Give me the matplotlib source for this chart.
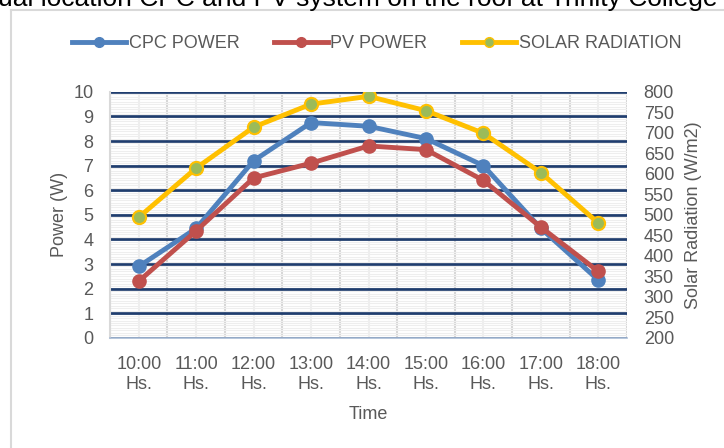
import matplotlib.pyplot as plt
import numpy as np
from matplotlib.ticker import MultipleLocator, FixedLocator
from matplotlib.lines import Line2D

plt.rcParams['font.family'] = ['Liberation Sans', 'DejaVu Sans']

# data
times = ['10:00\nHs.', '11:00\nHs.', '12:00\nHs.', '13:00\nHs.', '14:00\nHs.',
         '15:00\nHs.', '16:00\nHs.', '17:00\nHs.', '18:00\nHs.']
cpcPower = [2.9, 4.45, 7.2, 8.75, 8.6, 8.1, 7.0, 4.45, 2.35]
pvPower = [2.3, 4.35, 6.5, 7.1, 7.8, 7.65, 6.4, 4.5, 2.7]
solarRad = [494, 614, 714, 770, 789, 754, 699, 603, 480]

txtColor = '#595959'
fs = 13

fig = plt.figure(figsize=(7.24, 4.48), dpi=100)
ax = fig.add_axes([0.152, 0.246, 0.714, 0.549])

x = np.arange(len(times))
ax.plot(x, cpcPower, color='#4f81bd', lw=3.5, marker='o', ms=9.5, zorder=3)
ax.plot(x, pvPower, color='#c0504d', lw=3.5, marker='o', ms=9.5, zorder=3)

ax.set_xlim(-0.5, len(times) - 0.5)
ax.set_ylim(0, 10)
ax.set_xticks(x)
ax.set_xticklabels(times, color=txtColor, fontsize=fs, linespacing=1.25)
ax.xaxis.set_minor_locator(FixedLocator(np.arange(-0.5, len(times), 1)))
ax.yaxis.set_major_locator(MultipleLocator(1))
ax.yaxis.set_minor_locator(MultipleLocator(0.1))
ax.tick_params(axis='both', which='both', length=0)
ax.tick_params(axis='y', labelcolor=txtColor, labelsize=fs, pad=12)
ax.tick_params(axis='x', pad=13)

ax.grid(which='minor', axis='y', color='#eeeeee', lw=0.8)
ax.grid(which='major', axis='x', color='#efefef', lw=1.5)
ax.grid(which='minor', axis='x', color='#d6d6d6', lw=1.5)
ax.grid(which='major', axis='y', color='#1f3d6e', lw=2)
ax.set_axisbelow(True)

for s in ['top', 'right']:
    ax.spines[s].set_visible(False)
ax.spines['left'].set_color('#d9d9d9')
ax.spines['left'].set_linewidth(1.5)
ax.spines['bottom'].set_color('#a9bcd5')
ax.spines['bottom'].set_linewidth(1.2)

ax.set_ylabel('Power (W)', color=txtColor, fontsize=fs, labelpad=4)
ax.set_xlabel('Time', color=txtColor, fontsize=fs, labelpad=9)

ax2 = ax.twinx()
ax2.plot(x, solarRad, color='#ffc000', lw=3.5, marker='o', ms=9.5,
         mfc='#9bbb59', mec='#ffc000', mew=1.5, zorder=3)
ax2.set_ylim(200, 800)
ax2.yaxis.set_major_locator(MultipleLocator(50))
ax2.tick_params(axis='y', length=0, labelcolor=txtColor, labelsize=fs, pad=12)
for s in ax2.spines.values():
    s.set_visible(False)
ax2.set_ylabel('Solar Radiation (W/m2)', color=txtColor, fontsize=fs, labelpad=8)

handles = [
    Line2D([], [], color='#4f81bd', lw=3.5, marker='o', ms=7),
    Line2D([], [], color='#c0504d', lw=3.5, marker='o', ms=7),
    Line2D([], [], color='#ffc000', lw=3.5, marker='o', ms=7, mfc='#9bbb59', mec='#ffc000'),
]
fig.legend(handles, ['CPC POWER', 'PV POWER', 'SOLAR RADIATION'],
           loc='center', bbox_to_anchor=(0.52, 0.903), ncol=3, frameon=False,
           fontsize=fs, labelcolor=txtColor, handlelength=3.0, handletextpad=0.15,
           columnspacing=1.9)

# chart frame (only top and left edges visible in the crop)
fig.add_artist(Line2D([11 / 724, 1], [1 - 10 / 448] * 2, transform=fig.transFigure,
                      color='#d9d9d9', lw=1.5))
fig.add_artist(Line2D([11 / 724] * 2, [0, 1 - 10 / 448], transform=fig.transFigure,
                      color='#d9d9d9', lw=1.5))

# cut-off title at the top
fig.text(-0.003, 1 - 6 / 448, 'ual location CPC and PV system on the roof at Trinity College',
         ha='left', va='baseline', fontsize=19, color='black')

fig.savefig('out.png', dpi=100)
